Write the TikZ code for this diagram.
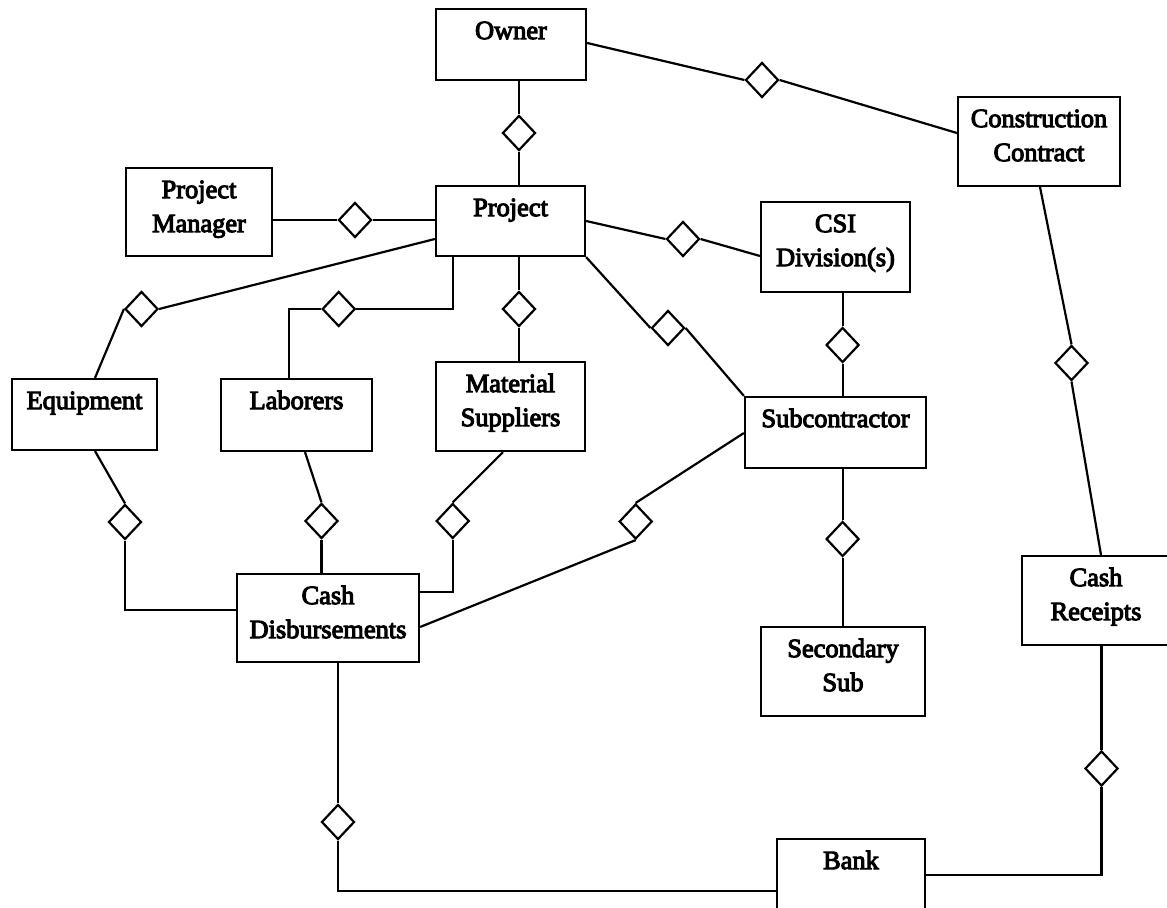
\documentclass[tikz,border=0pt]{standalone}
\usepackage{fontspec}
\newfontfamily\lblfont[FakeBold=4]{Liberation Serif}
\usetikzlibrary{shapes.geometric}
\begin{document}
\begin{tikzpicture}[x=0.5pt,y=-0.5pt,
  box/.style={draw, line width=1.1pt, rectangle, inner sep=0pt},
  rel/.style={draw, line width=1.1pt, shape=diamond, inner sep=0pt,
              minimum width=16.5pt, minimum height=17.5pt},
  lbl/.style={inner sep=0pt, align=center, anchor=north,
              font=\lblfont\fontsize{13.2}{17}\selectfont},
  link/.style={line width=1.1pt},
]
\useasboundingbox (0,0) rectangle (1167,908);
\clip (0,0) rectangle (1167,908);

% entity boxes (centre in px, size in pt)
\node[box, minimum width=75pt,   minimum height=35.5pt] (owner)  at (511,44.5)   {};
\node[box, minimum width=74.5pt, minimum height=35pt]   (project) at (510.5,221) {};
\node[box, minimum width=73pt,   minimum height=44pt]   (pm)     at (199,212)    {};
\node[box, minimum width=81pt,   minimum height=44.5pt] (cc)     at (1039,141.5) {};
\node[box, minimum width=74.5pt, minimum height=45pt]   (csi)    at (835.5,247)  {};
\node[box, minimum width=72.5pt, minimum height=35.5pt] (equip)  at (84.5,414.5) {};
\node[box, minimum width=75.5pt, minimum height=36pt]   (labor)  at (296.5,415)  {};
\node[box, minimum width=74.5pt, minimum height=44.5pt] (matsup) at (510.5,406.5){};
\node[box, minimum width=90.5pt, minimum height=35.5pt] (sub)    at (835.5,432.5){};
\node[box, minimum width=91pt,   minimum height=44pt]   (cashd)  at (328,618)    {};
\node[box, minimum width=82pt,   minimum height=44.5pt] (secsub) at (843,671.5)  {};
\node[box, minimum width=74pt,   minimum height=44.5pt] (cashr)  at (1096,600.5){};
\node[box, minimum width=74pt,   minimum height=45.5pt] (bank)   at (851,884.5)  {};

% box captions, set near the top edge of each box
\node[lbl] (owner-t)   at ([shift={(0,7)}]owner.north)   {\strut Owner};
\node[lbl] (project-t) at ([shift={(0,7)}]project.north) {\strut Project};
\node[lbl] (pm-t)      at ([shift={(0,7)}]pm.north)      {\strut Project\\\strut Manager};
\node[lbl] (cc-t)      at ([shift={(0,7)}]cc.north)      {\strut Construction\\\strut Contract};
\node[lbl] (csi-t)     at ([shift={(0,7)}]csi.north)     {\strut CSI\\\strut Division(s)};
\node[lbl] (equip-t)   at ([shift={(0,7)}]equip.north)   {\strut Equipment};
\node[lbl] (labor-t)   at ([shift={(0,7)}]labor.north)   {\strut Laborers};
\node[lbl] (matsup-t)  at ([shift={(0,7)}]matsup.north)  {\strut Material\\\strut Suppliers};
\node[lbl] (sub-t)     at ([shift={(0,7)}]sub.north)     {\strut Subcontractor};
\node[lbl] (cashd-t)   at ([shift={(0,7)}]cashd.north)   {\strut Cash\\\strut Disbursements};
\node[lbl] (secsub-t)  at ([shift={(0,7)}]secsub.north)  {\strut Secondary\\\strut Sub};
\node[lbl] (cashr-t)   at ([shift={(0,7)}]cashr.north)   {\strut Cash\\\strut Receipts};
\node[lbl] (bank-t)    at ([shift={(0,7)}]bank.north)    {\strut Bank};

% relationship diamonds
\node[rel] (d1)  at (519,133)     {};
\node[rel] (d2)  at (762,80)      {};
\node[rel] (d3)  at (355,220)     {};
\node[rel] (d4)  at (683,239)     {};
\node[rel] (d5)  at (141.5,309)   {};
\node[rel] (d6)  at (338.7,309)   {};
\node[rel] (d7)  at (519,309)     {};
\node[rel] (d8)  at (668,328)     {};
\node[rel] (d9)  at (842.6,345)   {};
\node[rel] (d10) at (842.6,539)   {};
\node[rel] (d11) at (1071.5,363)  {};
\node[rel] (d12) at (1101.5,768.5){};
\node[rel] (d13) at (125,522)     {};
\node[rel] (d14) at (321.5,521)   {};
\node[rel] (d15) at (452.7,521)   {};
\node[rel] (d16) at (635.7,521.5) {};
\node[rel] (d17) at (338,822)     {};

% connectors
\draw[link] (d1 |- owner.south) -- (d1.north);
\draw[link] (d1.south) -- (d1 |- project.north);

\draw[link] ([shift={(0,-1.5)}]owner.east) -- (d2.west);
\draw[link] (d2.east) -- ([shift={(0,-8.5)}]cc.west);

\draw[link] (pm.east |- d3) -- (d3.west);
\draw[link] (d3.east) -- (project.west |- d3);

\draw[link] (project.east) -- (d4.west);
\draw[link] (d4.east) -- ([shift={(0,9)}]csi.west);

\draw[link] ([shift={(0,18)}]project.west) -- (d5.east);
\draw[link] (d5.west) -- ([shift={(10.5,0)}]equip.north);

\draw[link] ([shift={(-57.8,0)}]project.south) |- (d6.east);
\draw[link] (d6.west) -| ([shift={(-7.5,0)}]labor.north);

\draw[link] (d7 |- project.south) -- (d7.north);
\draw[link] (d7.south) -- (d7 |- matsup.north);

\draw[link] (project.south east) -- (d8.west);
\draw[link] (d8.east) -- (sub.north west);

\draw[link] (d9 |- csi.south) -- (d9.north);
\draw[link] (d9.south) -- (d9 |- sub.north);

\draw[link] (d10 |- sub.south) -- (d10.north);
\draw[link] (d10.south) -- (d10 |- secsub.north);

\draw[link] ([shift={(1,0)}]cc.south) -- (d11.north);
\draw[link] (d11.south) -- ([shift={(5,0)}]cashr.north);

\draw[link] (d12 |- cashr.south) -- (d12.north);
\draw[link] (d12.south) |- ([shift={(0,-9.5)}]bank.east);

\draw[link] ([shift={(10.5,0)}]equip.south) -- (d13.north);
\draw[link] (d13.south) |- ([shift={(0,-8)}]cashd.west);

\draw[link] ([shift={(8.5,0)}]labor.south) -- (d14.north);
\draw[link] (d14.south) -- (d14 |- cashd.north);

\draw[link] ([shift={(-7.5,0)}]matsup.south) -- (d15.north);
\draw[link] (d15.south) |- ([shift={(0,-26)}]cashd.east);

\draw[link] ([shift={(0,0.5)}]sub.west) -- (d16.north);
\draw[link] (d16.south) -- ([shift={(0,9)}]cashd.east);

\draw[link] (d17 |- cashd.south) -- (d17.north);
\draw[link] (d17.south) |- ([shift={(0,6.5)}]bank.west);
\end{tikzpicture}
\end{document}
